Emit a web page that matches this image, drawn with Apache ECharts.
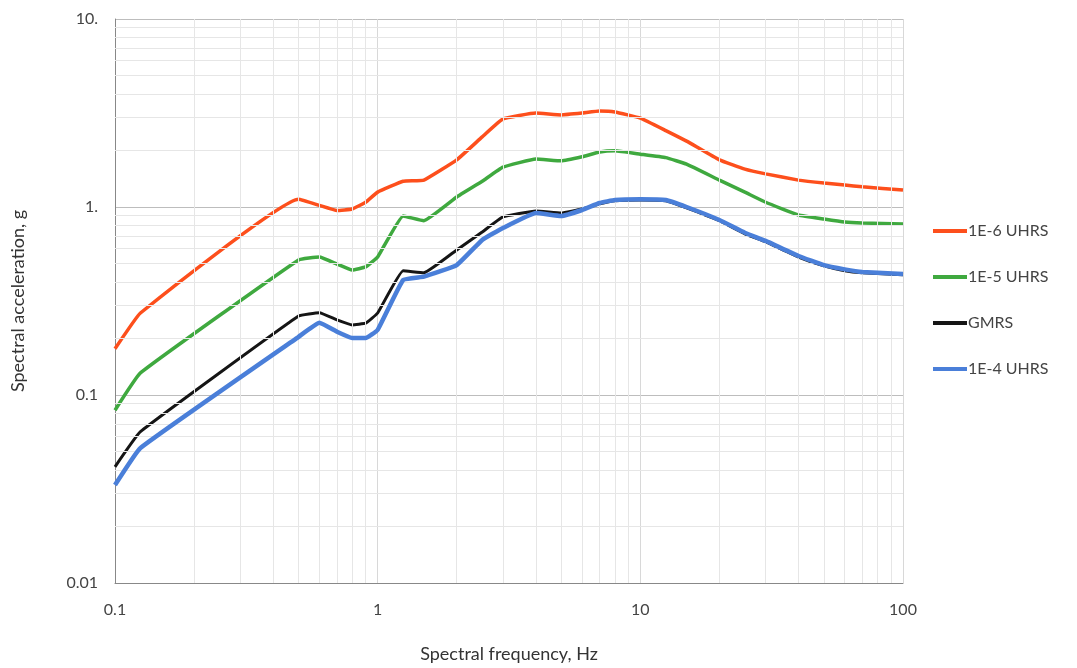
<!DOCTYPE html>
<html>
<head>
<meta charset="utf-8">
<script src="https://cdn.jsdelivr.net/npm/echarts@6/dist/echarts.min.js"></script>
<style>
  html, body { margin: 0; padding: 0; background: #fff; }
  #main { width: 1077px; height: 668px; }
</style>
</head>
<body>
<div id="main"></div>
<script>
var chart = echarts.init(document.getElementById('main'));

// spectral frequencies, Hz
var freq = [0.1, 0.125, 0.5, 0.6, 0.7, 0.8, 0.9, 1, 1.25, 1.5, 2, 2.5, 3, 4, 5, 6, 7, 8, 10, 12.5, 15, 20, 25, 30, 40, 50, 60, 70, 100];

// spectral acceleration, g
var uhrs6 = [0.176, 0.273, 1.10, 1.02, 0.958, 0.976, 1.06, 1.20, 1.37, 1.39, 1.78, 2.36, 2.94, 3.16, 3.09, 3.16, 3.24, 3.20, 2.97, 2.55, 2.24, 1.78, 1.59, 1.50, 1.39, 1.34, 1.31, 1.28, 1.23];
var uhrs5 = [0.083, 0.131, 0.523, 0.542, 0.497, 0.462, 0.48, 0.542, 0.896, 0.846, 1.13, 1.37, 1.63, 1.80, 1.76, 1.85, 1.96, 1.99, 1.91, 1.83, 1.69, 1.39, 1.20, 1.06, 0.907, 0.863, 0.832, 0.822, 0.812];
var gmrs  = [0.0415, 0.0638, 0.263, 0.274, 0.251, 0.236, 0.241, 0.273, 0.458, 0.447, 0.591, 0.736, 0.885, 0.952, 0.929, 0.975, 1.04, 1.08, 1.09, 1.08, 0.99, 0.845, 0.72, 0.652, 0.542, 0.486, 0.458, 0.447, 0.436];
var uhrs4 = [0.0332, 0.0523, 0.204, 0.242, 0.217, 0.201, 0.201, 0.222, 0.409, 0.426, 0.491, 0.668, 0.773, 0.929, 0.896, 0.964, 1.05, 1.09, 1.10, 1.09, 1.00, 0.853, 0.73, 0.66, 0.549, 0.491, 0.466, 0.451, 0.440];

var xMinor = [2, 3, 4, 5, 6, 7, 8, 9];
var yMinor = [2, 3, 4, 5, 6, 7, 8, 9];

function pairs(ys) {
  return freq.map(function (f, i) { return [f, ys[i]]; });
}

// minor grid lines at 2..9 of every decade
var minorLines = [];
[0.1, 1, 10].forEach(function (d) {
  xMinor.forEach(function (m) { minorLines.push({ xAxis: +(m * d).toPrecision(3) }); });
});
[0.01, 0.1, 1].forEach(function (d) {
  yMinor.forEach(function (m) { minorLines.push({ yAxis: +(m * d).toPrecision(3) }); });
});

var font = 'Lato, "Open Sans", sans-serif';

function line(name, ys, color, width, z) {
  return {
    name: name, type: 'line', data: pairs(ys), showSymbol: false,
    smooth: 0.1, color: color,
    lineStyle: { width: width }, z: z
  };
}

var option = {
  animation: false,
  textStyle: { fontFamily: font },
  grid: { left: 115, right: 174, top: 19, bottom: 85 },
  legend: {
    orient: 'vertical',
    left: 928,
    top: 218,
    itemGap: 30,
    itemWidth: 34,
    itemHeight: 4,
    icon: 'rect',
    textStyle: { fontSize: 16, color: '#444', fontFamily: font, padding: [0, 0, 0, -4] },
    data: ['1E-6 UHRS', '1E-5 UHRS', 'GMRS', '1E-4 UHRS']
  },
  xAxis: {
    type: 'log',
    logBase: 10,
    min: 0.1,
    max: 100,
    name: 'Spectral frequency, Hz',
    nameLocation: 'middle',
    nameGap: 62,
    nameTextStyle: { fontSize: 18, color: '#333', fontFamily: font },
    axisLine: { lineStyle: { color: '#888', width: 1 } },
    axisTick: { show: false },
    axisLabel: {
      fontSize: 16, color: '#444', margin: 19,
      formatter: function (v) { return String(+v.toPrecision(3)); }
    },
    splitLine: { show: true, lineStyle: { color: '#d8d8d8' } }
  },
  yAxis: {
    type: 'log',
    logBase: 10,
    min: 0.01,
    max: 10,
    name: 'Spectral acceleration, g',
    nameLocation: 'middle',
    nameGap: 88,
    nameTextStyle: { fontSize: 18, color: '#333', fontFamily: font },
    axisLine: { show: true, lineStyle: { color: '#888', width: 1 } },
    axisTick: { show: false },
    axisLabel: {
      fontSize: 16, color: '#444', margin: 17,
      formatter: function (v) {
        v = +v.toPrecision(3);
        return v >= 1 ? v + '.' : String(v);
      }
    },
    splitLine: { show: true, lineStyle: { color: '#bdbdbd' } }
  },
  series: [
    {
      name: 'grid',
      type: 'line',
      data: [],
      silent: true,
      markLine: {
        silent: true,
        symbol: 'none',
        label: { show: false },
        lineStyle: { color: '#e6e6e6', width: 1, type: 'solid' },
        emphasis: { disabled: true },
        data: minorLines
      }
    },
    line('1E-6 UHRS', uhrs6, '#fd4f1c', 3.5, 3),
    line('1E-5 UHRS', uhrs5, '#3fa93f', 3.5, 3),
    line('GMRS', gmrs, '#151515', 3, 4),
    line('1E-4 UHRS', uhrs4, '#4a7fd9', 4.5, 5)
  ]
};

chart.setOption(option);
</script>
</body>
</html>
